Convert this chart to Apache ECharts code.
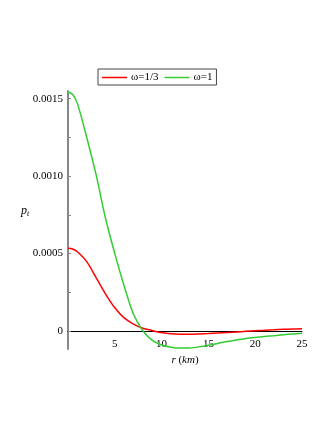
<!DOCTYPE html>
<html>
<head>
<meta charset="utf-8">
<script src="https://cdn.jsdelivr.net/npm/echarts@6/dist/echarts.min.js"></script>
<style>
html,body{margin:0;padding:0;background:#fff;}
#chart{width:332px;height:430px;}
</style>
</head>
<body>
<div id="chart"></div>
<script>
const rValues = [0,0.5,1,2,3,4,5,6,7,8,9,10,11,12,13,14,15,16,17,18,19,20,21,22,23,24,25];
const ptOmegaThird = [0.000535,0.000530,0.000512,0.000448,0.000345,0.000240,0.000150,0.000085,0.000045,0.000018,0.000003,-0.000010,-0.000018,-0.000021,-0.000021,-0.000019,-0.000016,-0.000012,-0.000009,-0.000006,-0.000002,0.000002,0.000005,0.000008,0.000011,0.000013,0.000015];
const ptOmegaOne = [0.001545,0.001527,0.001470,0.001250,0.001010,0.000730,0.000500,0.000291,0.000108,0.000002,-0.000060,-0.000090,-0.000104,-0.000110,-0.000109,-0.000102,-0.000092,-0.000080,-0.000068,-0.000058,-0.000048,-0.000041,-0.000035,-0.000030,-0.000024,-0.000019,-0.000015];
const seriesNames = ['ω=1/3','ω=1'];
const yTickValues = [0,0.0005,0.0010,0.0015];
const yMinorTicks = [0,0.00025,0.0005,0.00075,0.0010,0.00125,0.0015];
const xTickValues = [5,10,15,20,25];

const font = 'Liberation Serif';
const chart = echarts.init(document.getElementById('chart'));
const pairs = arr => rValues.map((r,i)=>[r,arr[i]]);
chart.setOption({
  backgroundColor:'#fff',
  animation:false,
  grid:{left:68,right:30,top:91,bottom:81,containLabel:false},
  legend:{
    left:98, top:69,
    data:seriesNames,
    icon:'rect', itemWidth:25, itemHeight:1.5, itemGap:6,
    borderColor:'#444', borderWidth:1, padding:[3,4,2,4],
    textStyle:{fontFamily:font,fontSize:11,color:'#000',padding:[0,0,0,-1]}
  },
  xAxis:{
    type:'value', min:0, max:25, interval:5,
    axisLine:{onZero:true,lineStyle:{color:'#000',width:1}},
    axisTick:{show:false},
    splitLine:{show:false},
    axisLabel:{fontFamily:font,fontSize:11,color:'#000',margin:-10,
      customValues:xTickValues, formatter:v=>String(v)},
    name:'{i|r} ({i|km})', nameLocation:'middle', nameGap:0,
    nameTextStyle:{fontFamily:font,fontSize:11,color:'#000',
      rich:{i:{fontFamily:font,fontStyle:'italic',fontSize:11,color:'#000'}}}
  },
  yAxis:{
    type:'value', min:-0.000116, max:0.00155,
    axisLine:{lineStyle:{color:'#888',width:2}},
    axisTick:{show:true,inside:true,length:3,customValues:yMinorTicks,lineStyle:{color:'#888'}},
    splitLine:{show:false},
    axisLabel:{fontFamily:font,fontSize:11,color:'#000',margin:5,
      customValues:yTickValues,
      formatter:v=>v===0?'0':v.toFixed(4)}
  },
  graphic:[{
    type:'text', left:21, top:205,
    style:{text:'{p|p}{s|t}',
      rich:{p:{fontFamily:font,fontStyle:'italic',fontSize:12,color:'#000'},
            s:{fontFamily:font,fontStyle:'italic',fontSize:8,color:'#000',verticalAlign:'bottom',padding:[6,0,0,0]}}}
  }],
  series:[
    {name:seriesNames[0],type:'line',data:pairs(ptOmegaThird),smooth:0.3,showSymbol:false,
      lineStyle:{color:'#ff0000',width:1.5},itemStyle:{color:'#ff0000'}},
    {name:seriesNames[1],type:'line',data:pairs(ptOmegaOne),smooth:0.3,showSymbol:false,
      lineStyle:{color:'#33cc33',width:1.5},itemStyle:{color:'#33cc33'}}
  ]
});
</script>
</body>
</html>
